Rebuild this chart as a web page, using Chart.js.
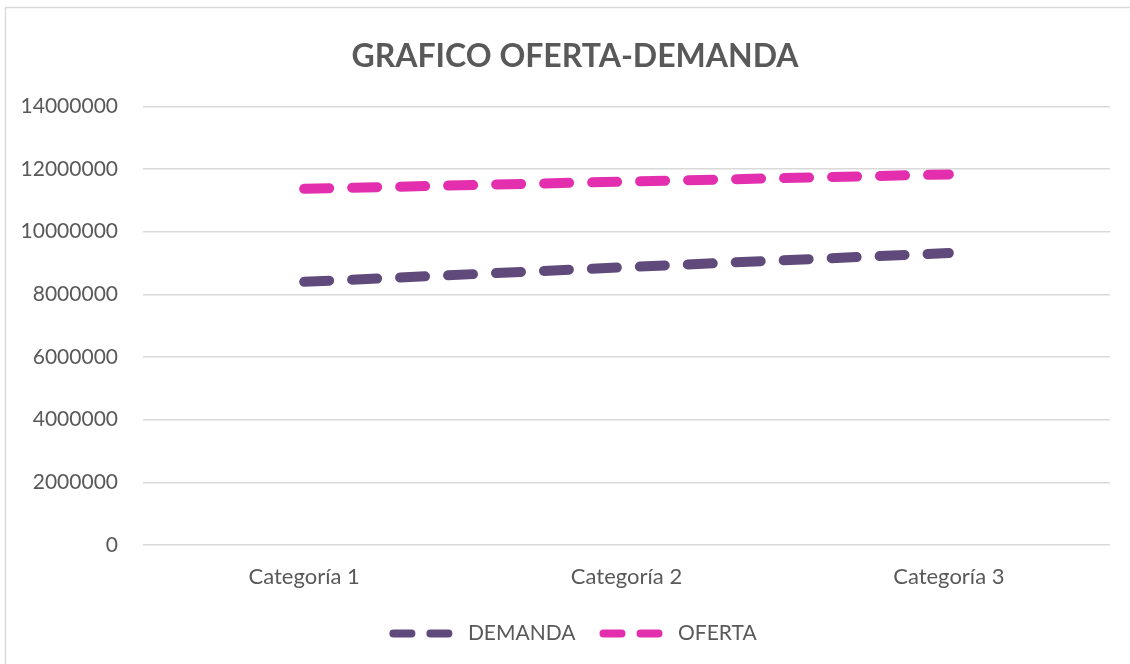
<!DOCTYPE html>
<html>
<head>
<meta charset="utf-8">
<script src="https://cdn.jsdelivr.net/npm/chart.js@4/dist/chart.umd.min.js"></script>
<style>
html,body{margin:0;padding:0;background:#fff;}
#wrap{position:absolute;left:0;top:0;width:1130px;height:664px;}
</style>
</head>
<body>
<div id="wrap"><canvas id="c" width="1130" height="664"></canvas></div>
<script>
const categories = ["Categoría 1", "Categoría 2", "Categoría 3"];
const demanda = [8400000, 8870000, 9320000];
const oferta = [11370000, 11600000, 11830000];
const yTicks = [0, 2000000, 4000000, 6000000, 8000000, 10000000, 12000000, 14000000];

const FONT = "Lato, 'Open Sans', sans-serif";
const TXT = "#595959";

const framePlugin = {
  id: 'frame',
  beforeDraw(chart) {
    const ctx = chart.ctx;
    ctx.save();
    ctx.fillStyle = '#fff';
    ctx.fillRect(0, 0, chart.width, chart.height);
    ctx.strokeStyle = '#d9d9d9';
    ctx.lineWidth = 1.5;
    ctx.strokeRect(5.5, 7.5, 1130, 700);
    ctx.restore();
  }
};

new Chart(document.getElementById('c'), {
  type: 'line',
  data: {
    labels: categories,
    datasets: [
      { label: 'DEMANDA', data: demanda, borderColor: '#604a7b', backgroundColor: '#604a7b',
        borderWidth: 10, borderDash: [25, 23], borderCapStyle: 'round', pointRadius: 0, tension: 0, fill: false },
      { label: 'OFERTA', data: oferta, borderColor: '#e32ead', backgroundColor: '#e32ead',
        borderWidth: 10, borderDash: [25, 23], borderCapStyle: 'round', pointRadius: 0, tension: 0, fill: false }
    ]
  },
  options: {
    responsive: false,
    animation: false,
    devicePixelRatio: 1,
    layout: { padding: { left: 20, right: 0, top: 0, bottom: 10 } },
    plugins: {
      title: {
        display: true, text: 'GRAFICO OFERTA-DEMANDA', color: TXT,
        font: { family: FONT, size: 32, weight: 'bold' },
        padding: { top: 37, bottom: 31 }
      },
      legend: {
        position: 'bottom',
        labels: {
          color: TXT, font: { family: FONT, size: 21 },
          usePointStyle: true, pointStyle: 'line', pointStyleWidth: 64, boxHeight: 19,
          padding: 28,
          generateLabels(chart) {
            return chart.data.datasets.map((ds, i) => ({
              text: ds.label, fillStyle: ds.borderColor, strokeStyle: ds.borderColor,
              lineWidth: 8, lineDash: [18, 19, 18, 40], lineCap: 'round', pointStyle: 'line',
              fontColor: TXT, datasetIndex: i, hidden: false
            }));
          }
        }
      },
      tooltip: { enabled: false }
    },
    scales: {
      x: {
        offset: true,
        grid: { display: false, drawTicks: false, offset: true },
        border: { display: false },
        ticks: { color: TXT, font: { family: FONT, size: 22 }, padding: 19 },
        afterFit(s) { s.height = 50; }
      },
      y: {
        min: 0, max: 14000000,
        afterBuildTicks(s) { s.ticks = yTicks.map(v => ({ value: v })); },
        grid: { color: '#d9d9d9', lineWidth: 1.5, drawTicks: false },
        border: { display: false },
        ticks: { color: TXT, font: { family: FONT, size: 21 }, padding: 25, callback: v => String(v) },
        afterFit(s) { s.width = 123; }
      },
      yRight: {
        position: 'right',
        display: true,
        grid: { display: false, drawTicks: false },
        border: { display: false },
        ticks: { display: false },
        afterFit(s) { s.width = 20; }
      }
    }
  },
  plugins: [framePlugin]
});
</script>
</body>
</html>
